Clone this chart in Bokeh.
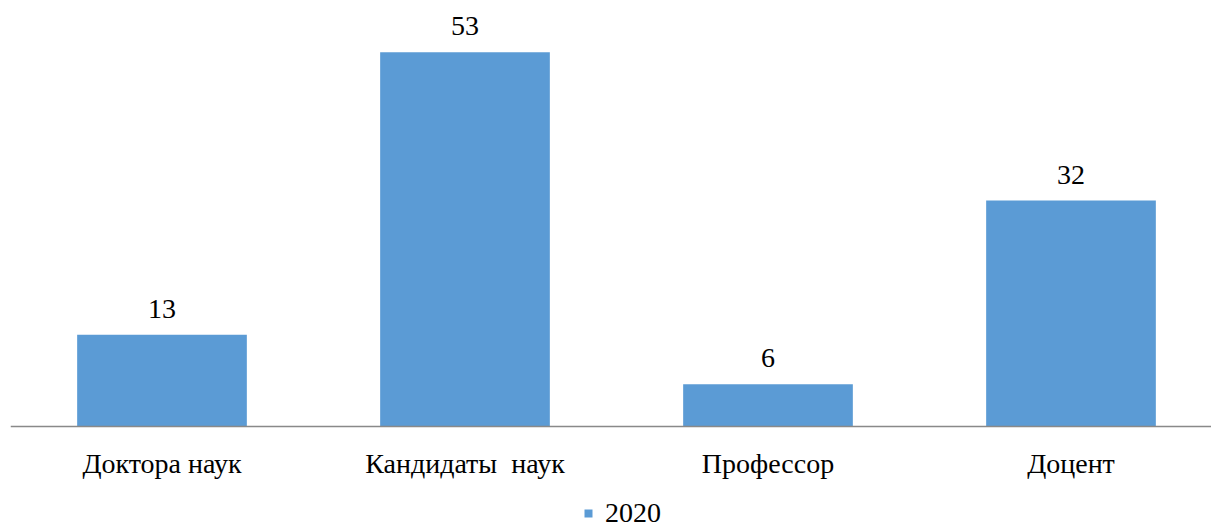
from bokeh.plotting import figure
from bokeh.models import ColumnDataSource, LabelSet, Legend, LegendItem, FixedTicker, Range1d
from bokeh.core.properties import value
from bokeh.embed import file_html
from bokeh.resources import INLINE
import numpy as np

categories = ["Доктора наук", "Кандидаты\u00a0 наук", "Профессор", "Доцент"]
values_2020 = [13, 53, 6, 32]
series_name = "2020"

x = (np.arange(len(categories)) + 0.5).tolist()
src = ColumnDataSource(dict(x=x, v=values_2020, lbl=[str(v) for v in values_2020]))

FONT = "Liberation Serif"
FS = "28px"
p = figure(width=1211, height=529, output_backend="svg", toolbar_location=None,
           x_range=Range1d(0, 1201 / 303), y_range=Range1d(-103 / 7.06, 59.2),
           min_border_left=10, min_border_right=0, min_border_top=8, min_border_bottom=0)
p.outline_line_color = None
p.xgrid.visible = False
p.ygrid.visible = False
p.yaxis.visible = False

r = p.vbar(x="x", top="v", width=0.56, source=src, fill_color="#5B9BD5", line_color=None)

labels = LabelSet(x="x", y="v", text="lbl", source=src, text_align="center",
                  text_baseline="alphabetic", y_offset=17,
                  text_font=value(FONT), text_font_size=value(FS), text_color="#000000")
p.add_layout(labels)

ax = p.xaxis[0]
ax.fixed_location = 0
ax.ticker = FixedTicker(ticks=x)
ax.major_label_overrides = {xx: c for xx, c in zip(x, categories)}
ax.major_tick_line_color = None
ax.minor_tick_line_color = None
ax.major_tick_out = 0
ax.major_tick_in = 0
ax.axis_line_color = "#898989"
ax.axis_line_width = 1.5
ax.major_label_standoff = 22
ax.major_label_text_font = FONT
ax.major_label_text_font_size = FS
ax.major_label_text_color = "#000000"

legend = Legend(items=[LegendItem(label=series_name, renderers=[r])],
                location=(573, 0), orientation="horizontal",
                border_line_color=None, background_fill_alpha=0,
                padding=0, margin=0, glyph_width=10, glyph_height=10,
                label_standoff=12, label_text_font=FONT, label_text_font_size=FS,
                label_text_color="#000000")
p.add_layout(legend, "center")

open("out.html", "w").write(file_html(p, INLINE))
